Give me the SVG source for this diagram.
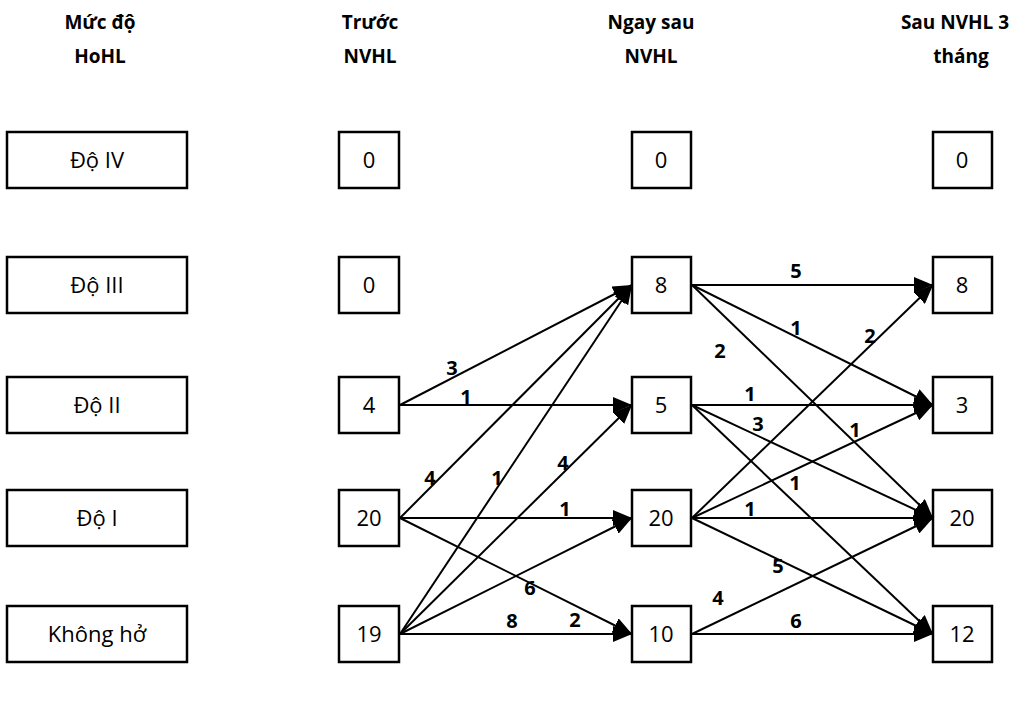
<svg xmlns="http://www.w3.org/2000/svg" width="1026" height="701" viewBox="0 0 1026 701">
<style>
.hdr{font-family:"Open Sans","Liberation Sans",sans-serif;font-weight:bold;font-size:19px;text-anchor:middle;fill:#000}
.box{fill:#fff;stroke:#000;stroke-width:2.5}
.lbl{font-family:"Open Sans","Liberation Sans",sans-serif;font-size:22px;text-anchor:middle;fill:#000}
.num{font-family:"Open Sans","Liberation Sans",sans-serif;font-size:22px;text-anchor:middle;fill:#000}
.edge{stroke:#000;stroke-width:2;fill:none;marker-end:url(#arr)}
.w{font-family:"Open Sans","Liberation Sans",sans-serif;font-weight:bold;font-size:20px;text-anchor:middle;fill:#000}
</style>
<defs>
<marker id="arr" markerUnits="userSpaceOnUse" markerWidth="20" markerHeight="16" refX="19" refY="8" orient="auto">
<path d="M0,0 L19,8 L0,16 z" fill="#000"/>
</marker>
</defs>
<rect width="1026" height="701" fill="#fff"/>
<g id="headers">
<text class="hdr" x="100" y="29">Mức độ</text>
<text class="hdr" x="100" y="63">HoHL</text>
<text class="hdr" x="370" y="29">Trước</text>
<text class="hdr" x="370" y="63">NVHL</text>
<text class="hdr" x="651" y="29">Ngay sau</text>
<text class="hdr" x="651" y="63">NVHL</text>
<text class="hdr" x="955" y="29">Sau NVHL 3</text>
<text class="hdr" x="961" y="63">tháng</text>
</g>
<g id="level-4"><rect class="box" x="7" y="132" width="180" height="56"/><text class="lbl" x="97" y="168">Độ IV</text></g>
<g id="level-3"><rect class="box" x="7" y="257" width="180" height="56"/><text class="lbl" x="97" y="293">Độ III</text></g>
<g id="level-2"><rect class="box" x="7" y="377" width="180" height="56"/><text class="lbl" x="97" y="413">Độ II</text></g>
<g id="level-1"><rect class="box" x="7" y="490" width="180" height="56"/><text class="lbl" x="97" y="526">Độ I</text></g>
<g id="level-0"><rect class="box" x="7" y="606" width="180" height="56"/><text class="lbl" x="97" y="642">Không hở</text></g>

<g id="before-4"><rect class="box" x="339" y="132" width="60" height="56"/><text class="num" x="369" y="168">0</text></g>
<g id="before-3"><rect class="box" x="339" y="257" width="60" height="56"/><text class="num" x="369" y="293">0</text></g>
<g id="before-2"><rect class="box" x="339" y="377" width="60" height="56"/><text class="num" x="369" y="413">4</text></g>
<g id="before-1"><rect class="box" x="339" y="490" width="60" height="56"/><text class="num" x="369" y="526">20</text></g>
<g id="before-0"><rect class="box" x="339" y="606" width="60" height="56"/><text class="num" x="369" y="642">19</text></g>

<g id="after-4"><rect class="box" x="632" y="132" width="59" height="56"/><text class="num" x="661" y="168">0</text></g>
<g id="after-3"><rect class="box" x="632" y="257" width="59" height="56"/><text class="num" x="661" y="293">8</text></g>
<g id="after-2"><rect class="box" x="632" y="377" width="59" height="56"/><text class="num" x="661" y="413">5</text></g>
<g id="after-1"><rect class="box" x="632" y="490" width="59" height="56"/><text class="num" x="661" y="526">20</text></g>
<g id="after-0"><rect class="box" x="632" y="606" width="59" height="56"/><text class="num" x="661" y="642">10</text></g>

<g id="m3-4"><rect class="box" x="933" y="132" width="59" height="56"/><text class="num" x="962" y="168">0</text></g>
<g id="m3-3"><rect class="box" x="933" y="257" width="59" height="56"/><text class="num" x="962" y="293">8</text></g>
<g id="m3-2"><rect class="box" x="933" y="377" width="59" height="56"/><text class="num" x="962" y="413">3</text></g>
<g id="m3-1"><rect class="box" x="933" y="490" width="59" height="56"/><text class="num" x="962" y="526">20</text></g>
<g id="m3-0"><rect class="box" x="933" y="606" width="59" height="56"/><text class="num" x="962" y="642">12</text></g>

<g id="connectors">
<line class="edge" x1="400" y1="405" x2="632" y2="285"/>
<line class="edge" x1="400" y1="405" x2="632" y2="405"/>
<line class="edge" x1="400" y1="518" x2="632" y2="285"/>
<line class="edge" x1="400" y1="518" x2="632" y2="518"/>
<line class="edge" x1="400" y1="518" x2="632" y2="634"/>
<line class="edge" x1="400" y1="634" x2="632" y2="285"/>
<line class="edge" x1="400" y1="634" x2="632" y2="405"/>
<line class="edge" x1="400" y1="634" x2="632" y2="518"/>
<line class="edge" x1="400" y1="634" x2="632" y2="634"/>

<line class="edge" x1="692" y1="285" x2="933" y2="285"/>
<line class="edge" x1="692" y1="285" x2="933" y2="405"/>
<line class="edge" x1="692" y1="285" x2="933" y2="518"/>
<line class="edge" x1="692" y1="405" x2="933" y2="405"/>
<line class="edge" x1="692" y1="405" x2="933" y2="518"/>
<line class="edge" x1="692" y1="405" x2="933" y2="634"/>
<line class="edge" x1="692" y1="518" x2="933" y2="285"/>
<line class="edge" x1="692" y1="518" x2="933" y2="405"/>
<line class="edge" x1="692" y1="518" x2="933" y2="518"/>
<line class="edge" x1="692" y1="518" x2="933" y2="634"/>
<line class="edge" x1="692" y1="634" x2="933" y2="518"/>
<line class="edge" x1="692" y1="634" x2="933" y2="634"/>

<text class="w" x="452" y="375">3</text>
<text class="w" x="466" y="404">1</text>
<text class="w" x="430" y="485">4</text>
<text class="w" x="497" y="485">1</text>
<text class="w" x="563" y="470">4</text>
<text class="w" x="565" y="516">1</text>
<text class="w" x="530" y="595">6</text>
<text class="w" x="575" y="627">2</text>
<text class="w" x="512" y="628">8</text>

<text class="w" x="796" y="278">5</text>
<text class="w" x="796" y="335">1</text>
<text class="w" x="720" y="358">2</text>
<text class="w" x="870" y="343">2</text>
<text class="w" x="750" y="401">1</text>
<text class="w" x="758" y="431">3</text>
<text class="w" x="855" y="437">1</text>
<text class="w" x="795" y="490">1</text>
<text class="w" x="750" y="516">1</text>
<text class="w" x="778" y="573">5</text>
<text class="w" x="718" y="605">4</text>
<text class="w" x="796" y="628">6</text>
</g>
</svg>
